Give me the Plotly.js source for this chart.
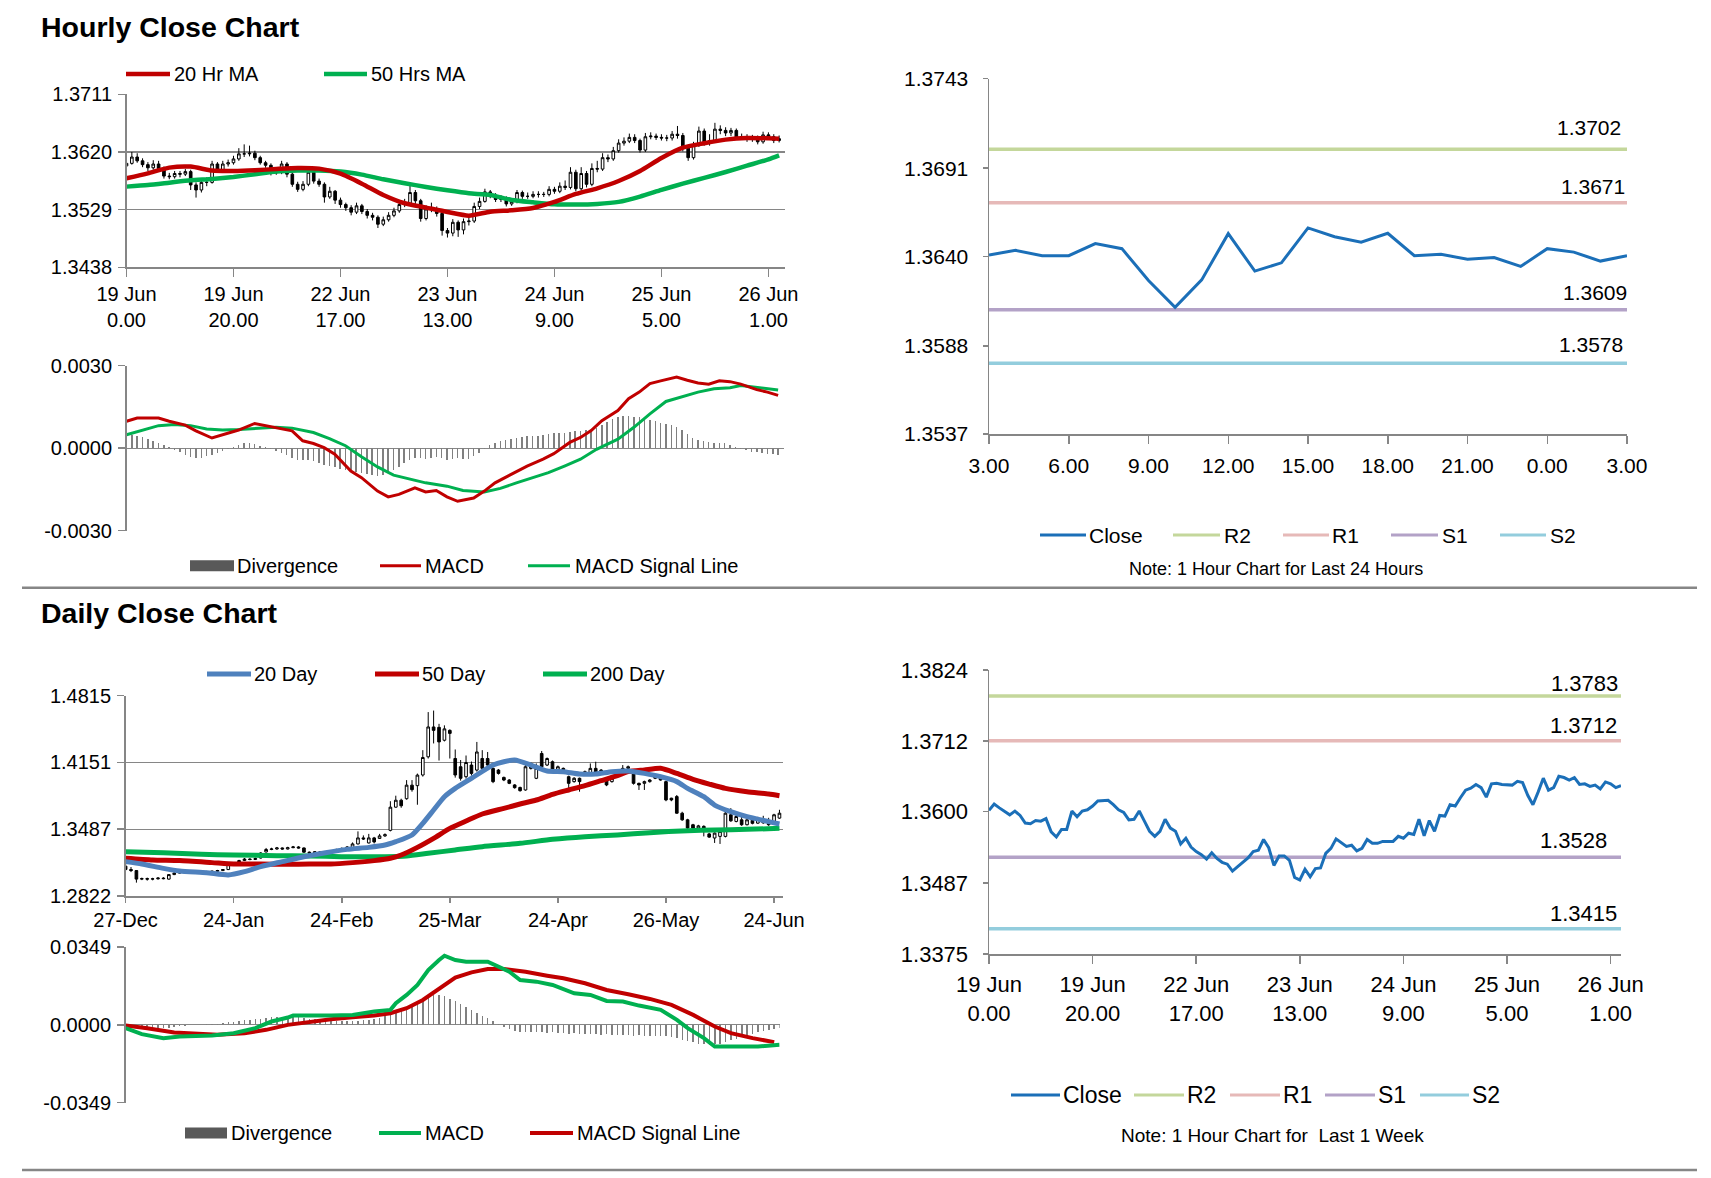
<!DOCTYPE html>
<html><head><meta charset="utf-8">
<script src="https://cdn.plot.ly/plotly-3.0.1.min.js"></script>
<style>html,body{margin:0;padding:0;background:#fff}#chart{width:1711px;height:1178px}</style>
</head><body><div id="chart"></div>
<script>
// ================= DATA =================
// Hourly (19 Jun 0.00 .. 26 Jun 2.00), one value per hour
const hourlyTickIdx = [0, 20, 40, 60, 80, 100, 120];
const hourlyTickLabels = ['19 Jun<br>0.00', '19 Jun<br>20.00', '22 Jun<br>17.00', '23 Jun<br>13.00', '24 Jun<br>9.00', '25 Jun<br>5.00', '26 Jun<br>1.00'];
const hourlyOpen = [1.3598,1.3602,1.3612,1.3606,1.3600,1.3595,1.3601,1.3594,1.3582,1.3581,
1.3586,1.3585,1.3589,1.3568,1.3560,1.3572,1.3572,1.3601,1.3592,1.3601,
1.3603,1.3609,1.3617,1.3617,1.3618,1.3611,1.3603,1.3599,1.3587,1.3588,
1.3601,1.3585,1.3569,1.3561,1.3569,1.3588,1.3574,1.3569,1.3549,1.3558,
1.3544,1.3537,1.3532,1.3525,1.3535,1.3526,1.3520,1.3517,1.3506,1.3513,
1.3520,1.3527,1.3537,1.3539,1.3556,1.3543,1.3515,1.3530,1.3530,1.3523,
1.3496,1.3492,1.3509,1.3497,1.3510,1.3511,1.3534,1.3542,1.3557,1.3551,
1.3545,1.3547,1.3538,1.3542,1.3556,1.3550,1.3550,1.3553,1.3553,1.3553,
1.3561,1.3558,1.3566,1.3564,1.3588,1.3562,1.3586,1.3569,1.3594,1.3593,
1.3611,1.3609,1.3622,1.3634,1.3637,1.3643,1.3638,1.3623,1.3644,1.3645,
1.3643,1.3642,1.3642,1.3648,1.3646,1.3626,1.3611,1.3631,1.3653,1.3634,
1.3638,1.3656,1.3654,1.3650,1.3654,1.3643,1.3644,1.3640,1.3642,1.3636,
1.3647,1.3644,1.3638];
const hourlyHigh = [1.3606,1.3620,1.3618,1.3610,1.3604,1.3607,1.3606,1.3597,1.3587,1.3590,
1.3590,1.3593,1.3592,1.3572,1.3576,1.3580,1.3606,1.3604,1.3606,1.3608,
1.3614,1.3626,1.3632,1.3630,1.3622,1.3614,1.3606,1.3602,1.3594,1.3606,
1.3604,1.3588,1.3573,1.3574,1.3592,1.3590,1.3578,1.3572,1.3565,1.3560,
1.3548,1.3540,1.3536,1.3540,1.3538,1.3530,1.3524,1.3520,1.3518,1.3525,
1.3532,1.3542,1.3546,1.3572,1.3560,1.3546,1.3536,1.3540,1.3534,1.3526,
1.3500,1.3514,1.3512,1.3515,1.3518,1.3540,1.3548,1.3562,1.3560,1.3555,
1.3552,1.3550,1.3547,1.3560,1.3559,1.3556,1.3558,1.3558,1.3557,1.3566,
1.3565,1.3572,1.3575,1.3596,1.3592,1.3596,1.3590,1.3602,1.3606,1.3618,
1.3616,1.3628,1.3640,1.3643,1.3649,1.3648,1.3641,1.3650,1.3651,1.3649,
1.3648,1.3647,1.3653,1.3661,1.3650,1.3629,1.3636,1.3660,1.3657,1.3648,
1.3666,1.3662,1.3659,1.3658,1.3657,1.3649,1.3648,1.3647,1.3646,1.3652,
1.3651,1.3648,1.3646];
const hourlyLow = [1.3594,1.3600,1.3603,1.3596,1.3590,1.3592,1.3590,1.3578,1.3577,1.3578,
1.3580,1.3582,1.3560,1.3548,1.3556,1.3566,1.3570,1.3588,1.3590,1.3597,
1.3600,1.3606,1.3612,1.3613,1.3607,1.3600,1.3595,1.3583,1.3584,1.3585,
1.3580,1.3565,1.3557,1.3558,1.3566,1.3570,1.3565,1.3540,1.3546,1.3538,
1.3532,1.3527,1.3520,1.3522,1.3522,1.3515,1.3512,1.3500,1.3503,1.3510,
1.3517,1.3524,1.3533,1.3536,1.3538,1.3510,1.3512,1.3525,1.3518,1.3488,
1.3485,1.3487,1.3486,1.3490,1.3504,1.3508,1.3530,1.3540,1.3547,1.3541,
1.3541,1.3534,1.3535,1.3539,1.3546,1.3546,1.3547,1.3548,1.3549,1.3550,
1.3554,1.3555,1.3560,1.3561,1.3558,1.3559,1.3564,1.3566,1.3588,1.3590,
1.3604,1.3606,1.3619,1.3630,1.3634,1.3634,1.3619,1.3620,1.3640,1.3639,
1.3638,1.3637,1.3638,1.3641,1.3621,1.3606,1.3608,1.3628,1.3630,1.3630,
1.3635,1.3648,1.3645,1.3645,1.3639,1.3639,1.3636,1.3636,1.3632,1.3633,
1.3640,1.3634,1.3635];
const hourlyClose = [1.3602,1.3612,1.3606,1.3600,1.3595,1.3601,1.3594,1.3582,1.3581,1.3586,
1.3585,1.3589,1.3568,1.3560,1.3572,1.3572,1.3601,1.3592,1.3601,1.3603,
1.3609,1.3617,1.3617,1.3618,1.3611,1.3603,1.3599,1.3587,1.3588,1.3601,
1.3585,1.3569,1.3561,1.3569,1.3588,1.3574,1.3569,1.3549,1.3558,1.3544,
1.3537,1.3532,1.3525,1.3535,1.3526,1.3520,1.3517,1.3506,1.3513,1.3520,
1.3527,1.3537,1.3539,1.3556,1.3543,1.3515,1.3530,1.3530,1.3523,1.3496,
1.3492,1.3509,1.3497,1.3510,1.3511,1.3534,1.3542,1.3557,1.3551,1.3545,
1.3547,1.3538,1.3542,1.3556,1.3550,1.3550,1.3553,1.3553,1.3553,1.3561,
1.3558,1.3566,1.3564,1.3588,1.3562,1.3586,1.3569,1.3594,1.3593,1.3611,
1.3609,1.3622,1.3634,1.3637,1.3643,1.3638,1.3623,1.3644,1.3645,1.3643,
1.3642,1.3642,1.3648,1.3646,1.3626,1.3611,1.3631,1.3653,1.3634,1.3638,
1.3656,1.3654,1.3650,1.3654,1.3643,1.3644,1.3640,1.3642,1.3636,1.3647,
1.3644,1.3638,1.3641];
const hourlyMAIdx = [0,4,8,12,16,20,24,28,32,36,40,44,48,52,56,60,64,68,72,76,80,84,88,92,96,100,104,108,112,116,120,122];
const hourlyMA20 = [1.35785,1.35863,1.35953,1.35969,1.35906,1.35900,1.35911,1.35932,1.35948,1.35937,1.35858,1.35700,1.35522,1.35391,1.35322,1.35253,1.35195,1.35258,1.35280,1.35316,1.35411,1.35537,1.35627,1.35742,1.35900,1.36105,1.36268,1.36337,1.36395,1.36421,1.36416,1.36410];
const hourlyMA50 = [1.35653,1.35679,1.35716,1.35753,1.35774,1.35806,1.35848,1.35890,1.35906,1.35906,1.35890,1.35842,1.35769,1.35706,1.35648,1.35595,1.35548,1.35522,1.35443,1.35406,1.35375,1.35370,1.35380,1.35412,1.35496,1.35601,1.35700,1.35790,1.35884,1.35984,1.36084,1.36147];
const hourlyMacdIdx = [0,2,6,8,11,13,16,18,21,24,27,29,31,33,35,37,39,42,44,47,49,51,54,56,58,60,62,65,67,69,72,75,78,80,83,85,87,89,92,94,96,98,100,103,105,107,109,111,113,115,118,120,122];
const hourlyMacd = [0.00098,0.00110,0.00110,0.00098,0.00084,0.00063,0.00037,0.00049,0.00066,0.00090,0.00079,0.00073,0.00063,0.00027,0.00017,0.00002,-0.00022,-0.00083,-0.00107,-0.00156,-0.00177,-0.00168,-0.00144,-0.00159,-0.00154,-0.00177,-0.00193,-0.00181,-0.00156,-0.00126,-0.00095,-0.00065,-0.00040,-0.00020,0.00021,0.00039,0.00064,0.00100,0.00137,0.00180,0.00204,0.00235,0.00245,0.00259,0.00247,0.00237,0.00233,0.00245,0.00242,0.00233,0.00213,0.00204,0.00192];
const hourlySignalIdx = [0,3,6,9,12,15,18,21,24,28,31,35,38,41,44,47,50,53,56,60,63,67,70,73,76,79,82,85,88,92,95,98,101,104,107,110,113,115,118,122];
const hourlySignal = [0.00049,0.00066,0.00082,0.00086,0.00082,0.00070,0.00066,0.00068,0.00072,0.00076,0.00073,0.00057,0.00035,0.00009,-0.00031,-0.00068,-0.00098,-0.00113,-0.00126,-0.00138,-0.00154,-0.00159,-0.00146,-0.00126,-0.00107,-0.00089,-0.00065,-0.00040,-0.00004,0.00033,0.00076,0.00125,0.00170,0.00188,0.00204,0.00216,0.00220,0.00228,0.00222,0.00212];
const hourlyDivergence = [0.00048,0.00049,0.00045,0.00040,0.00033,0.00026,0.00018,0.00010,0.00004,-0.00005,
-0.00015,-0.00025,-0.00032,-0.00034,-0.00034,-0.00030,-0.00024,-0.00018,-0.00010,-0.00004,
0.00006,0.00013,0.00018,0.00018,0.00014,0.00009,0.00003,-0.00004,-0.00010,-0.00016,
-0.00025,-0.00035,-0.00042,-0.00044,-0.00042,-0.00048,-0.00053,-0.00060,-0.00066,-0.00070,
-0.00075,-0.00080,-0.00083,-0.00087,-0.00090,-0.00095,-0.00098,-0.00100,-0.00098,-0.00090,
-0.00080,-0.00068,-0.00055,-0.00043,-0.00036,-0.00034,-0.00038,-0.00035,-0.00032,-0.00036,
-0.00042,-0.00040,-0.00036,-0.00040,-0.00038,-0.00030,-0.00018,-0.00003,0.00012,0.00020,
0.00026,0.00030,0.00033,0.00036,0.00040,0.00043,0.00045,0.00046,0.00048,0.00052,
0.00055,0.00056,0.00056,0.00060,0.00063,0.00062,0.00065,0.00068,0.00075,0.00085,
0.00095,0.00105,0.00112,0.00116,0.00118,0.00115,0.00112,0.00108,0.00102,0.00098,
0.00093,0.00088,0.00083,0.00076,0.00065,0.00050,0.00038,0.00030,0.00026,0.00022,
0.00020,0.00018,0.00018,0.00012,0.00003,-0.00004,-0.00008,-0.00012,-0.00015,-0.00017,
-0.00020,-0.00022,-0.00024];
const hourlyPriceTicks = [1.3438, 1.3529, 1.3620, 1.3711];
const hourlyMacdTicks = [-0.003, 0, 0.003];
const hourlyMacdTickText = ['-0.0030', '0.0000', '0.0030'];

// Last 24 hours (25 hourly closes, 25 Jun 3.00 .. 26 Jun 3.00)
const last24TickIdx = [0, 3, 6, 9, 12, 15, 18, 21, 24];
const last24TickLabels = ['3.00', '6.00', '9.00', '12.00', '15.00', '18.00', '21.00', '0.00', '3.00'];
const last24Close = [1.36407,1.36434,1.36403,1.36403,1.36473,1.36444,1.36259,1.36104,1.36263,1.36531,1.36314,1.36362,1.36564,1.36513,1.36482,1.36533,1.36403,1.36411,1.36383,1.36393,1.36341,1.36444,1.36424,1.36372,1.36403];
const last24Ticks = [1.3537, 1.3588, 1.3640, 1.3691, 1.3743];
const dayR2 = 1.3702, dayR1 = 1.3671, dayS1 = 1.3609, dayS2 = 1.3578;

// Last week pivots
const weekTicks = [1.3375, 1.3487, 1.3600, 1.3712, 1.3824];
const weekR2 = 1.3783, weekR1 = 1.3712, weekS1 = 1.3528, weekS2 = 1.3415;

// Daily (27-Dec .. 25-Jun)
const dailyTickIdx = [0, 20, 40, 60, 80, 100, 120];
const dailyTickLabels = ['27-Dec', '24-Jan', '24-Feb', '25-Mar', '24-Apr', '26-May', '24-Jun'];
const dailyOpen = [1.3119,1.3086,1.3075,1.2990,1.2995,1.2990,1.2993,1.3000,1.2990,1.3035,
1.3050,1.3058,1.3052,1.3062,1.3058,1.3065,1.3060,1.3068,1.3075,1.3085,
1.3135,1.3150,1.3175,1.3190,1.3185,1.3200,1.3260,1.3285,1.3290,1.3300,
1.3290,1.3303,1.3310,1.3300,1.3258,1.3250,1.3262,1.3245,1.3258,1.3270,
1.3285,1.3295,1.3300,1.3340,1.3400,1.3350,1.3400,1.3395,1.3420,1.3475,
1.3706,1.3775,1.3790,1.3925,1.3920,1.4026,1.4207,1.4504,1.4500,1.4372,
1.4470,1.4190,1.4108,1.4009,1.4125,1.4075,1.4190,1.4190,1.4092,1.4075,
1.4002,1.3976,1.3927,1.3902,1.3877,1.4141,1.3993,1.4240,1.4125,1.4158,
1.4075,1.4092,1.4009,1.3960,1.3993,1.4026,1.4042,1.4092,1.4075,1.3993,
1.3960,1.4009,1.4059,1.4092,1.4075,1.3943,1.3943,1.3960,1.3993,1.3993,
1.3960,1.3795,1.3811,1.3646,1.3580,1.3531,1.3498,1.3515,1.3440,1.3399,
1.3415,1.3415,1.3630,1.3564,1.3580,1.3531,1.3575,1.3547,1.3580,1.3547,
1.3564,1.3597];
const dailyHigh = [1.3140,1.3110,1.3080,1.3005,1.3005,1.3003,1.3010,1.3010,1.3040,1.3058,
1.3065,1.3065,1.3068,1.3070,1.3072,1.3072,1.3075,1.3082,1.3090,1.3145,
1.3160,1.3182,1.3200,1.3198,1.3205,1.3258,1.3300,1.3302,1.3310,1.3305,
1.3312,1.3320,1.3318,1.3305,1.3265,1.3268,1.3270,1.3265,1.3278,1.3292,
1.3305,1.3318,1.3355,1.3465,1.3425,1.3440,1.3410,1.3440,1.3445,1.3765,
1.3820,1.3790,1.3975,1.3975,1.4040,1.4273,1.4652,1.4667,1.4535,1.4520,
1.4480,1.4280,1.4175,1.4220,1.4160,1.4355,1.4273,1.4255,1.4100,1.4085,
1.4010,1.3985,1.3935,1.3910,1.4141,1.4150,1.4141,1.4265,1.4200,1.4170,
1.4120,1.4100,1.4020,1.4005,1.4000,1.4070,1.4141,1.4158,1.4085,1.4005,
1.4000,1.4050,1.4125,1.4120,1.4085,1.3950,1.3970,1.3985,1.4015,1.4000,
1.3970,1.3800,1.3827,1.3660,1.3590,1.3540,1.3530,1.3525,1.3450,1.3455,
1.3470,1.3660,1.3696,1.3640,1.3620,1.3600,1.3600,1.3610,1.3620,1.3600,
1.3640,1.3680];
const dailyLow = [1.3070,1.3060,1.2955,1.2980,1.2975,1.2978,1.2985,1.2988,1.2985,1.3030,
1.3045,1.3045,1.3048,1.3050,1.3052,1.3055,1.3055,1.3062,1.3070,1.3080,
1.3128,1.3145,1.3170,1.3178,1.3180,1.3195,1.3255,1.3278,1.3282,1.3283,
1.3285,1.3298,1.3295,1.3252,1.3245,1.3245,1.3240,1.3240,1.3252,1.3265,
1.3280,1.3290,1.3295,1.3335,1.3380,1.3345,1.3345,1.3390,1.3410,1.3465,
1.3700,1.3700,1.3780,1.3860,1.3730,1.4010,1.4190,1.4340,1.4170,1.4360,
1.4190,1.4000,1.3970,1.3990,1.4020,1.4060,1.4080,1.4110,1.3945,1.4030,
1.3965,1.3935,1.3890,1.3860,1.3870,1.4080,1.3985,1.4092,1.4115,1.4065,
1.4065,1.4050,1.3860,1.3950,1.3860,1.4020,1.4035,1.4030,1.4030,1.3915,
1.3950,1.4000,1.4050,1.4080,1.3930,1.3877,1.3877,1.3950,1.3985,1.3970,
1.3765,1.3765,1.3640,1.3570,1.3490,1.3485,1.3490,1.3415,1.3400,1.3350,
1.3340,1.3405,1.3560,1.3555,1.3520,1.3525,1.3535,1.3540,1.3540,1.3520,
1.3555,1.3590];
const dailyClose = [1.3086,1.3075,1.2990,1.2995,1.2990,1.2993,1.3000,1.2995,1.3035,1.3050,
1.3058,1.3052,1.3062,1.3058,1.3065,1.3060,1.3068,1.3075,1.3085,1.3135,
1.3150,1.3175,1.3190,1.3185,1.3195,1.3250,1.3285,1.3290,1.3300,1.3290,
1.3303,1.3310,1.3300,1.3258,1.3250,1.3262,1.3245,1.3258,1.3270,1.3285,
1.3295,1.3310,1.3340,1.3400,1.3390,1.3400,1.3360,1.3420,1.3432,1.3706,
1.3775,1.3720,1.3925,1.3880,1.4025,1.4200,1.4504,1.4470,1.4355,1.4485,
1.4440,1.4026,1.3993,1.4150,1.4042,1.4255,1.4092,1.4125,1.3960,1.4042,
1.3976,1.3943,1.3900,1.3870,1.4108,1.4092,1.4092,1.4108,1.4190,1.4075,
1.4108,1.4059,1.3943,1.3993,1.3960,1.4059,1.4092,1.4042,1.4042,1.3927,
1.3993,1.4042,1.4092,1.4108,1.3943,1.3927,1.3960,1.3976,1.4009,1.3976,
1.3778,1.3778,1.3646,1.3580,1.3498,1.3498,1.3520,1.3485,1.3408,1.3448,
1.3465,1.3646,1.3570,1.3613,1.3531,1.3580,1.3545,1.3597,1.3550,1.3531,
1.3630,1.3646];
const daily20Idx = [0,3,7,10,15,19,22,25,29,33,37,41,45,48,50,53,55,57,59,61,64,68,70,72,75,78,81,84,87,90,93,96,99,102,104,107,109,112,115,119,121];
const daily20 = [1.3164,1.3140,1.3097,1.3071,1.3054,1.3031,1.3064,1.3114,1.3164,1.3213,1.3253,1.3286,1.3306,1.3329,1.3363,1.3429,1.3545,1.3678,1.3810,1.3893,1.3993,1.4125,1.4158,1.4175,1.4125,1.4066,1.4059,1.4036,1.4036,1.4059,1.4066,1.4042,1.4009,1.3960,1.3893,1.3810,1.3727,1.3661,1.3611,1.3562,1.3538];
const daily50Idx = [0,5,10,16,20,25,30,34,38,42,46,49,51,54,57,60,63,66,70,73,76,79,82,85,88,91,93,96,99,102,105,108,111,115,119,121];
const daily50 = [1.3197,1.3180,1.3174,1.3154,1.3140,1.3140,1.3137,1.3140,1.3140,1.3154,1.3174,1.3197,1.3230,1.3306,1.3396,1.3495,1.3568,1.3638,1.3694,1.3737,1.3777,1.3833,1.3877,1.3920,1.3969,1.4019,1.4059,1.4076,1.4092,1.4042,1.3983,1.3936,1.3893,1.3860,1.3837,1.3820];
const daily200Idx = [0,7,14,20,28,34,40,48,52,56,61,66,73,79,85,91,97,104,109,115,121];
const daily200 = [1.3263,1.3253,1.3237,1.3230,1.3223,1.3220,1.3213,1.3213,1.3220,1.3247,1.3280,1.3313,1.3346,1.3386,1.3412,1.3429,1.3452,1.3472,1.3479,1.3485,1.3495];
const dailyMacdIdx = [0,3,7,10,16,20,24,27,30,31,38,42,46,49,50,52,54,56,58,59,61,63,67,69,71,73,76,79,83,86,89,92,95,99,102,104,107,109,113,117,121];
const dailyMacd = [-0.00149,-0.00417,-0.00596,-0.00522,-0.00477,-0.00373,-0.00149,0.00149,0.00328,0.00417,0.00417,0.00447,0.00596,0.00671,0.00969,0.01341,0.01788,0.02459,0.02906,0.03099,0.02906,0.02831,0.02831,0.02608,0.02384,0.02012,0.01937,0.01788,0.01416,0.01341,0.01073,0.01043,0.00864,0.00671,0.00224,-0.00149,-0.00596,-0.00969,-0.00969,-0.00969,-0.00894];
const dailySignalIdx = [0,4,9,13,17,22,26,30,34,38,42,46,49,52,55,58,61,64,67,70,74,78,81,85,89,93,97,101,105,109,112,116,120];
const dailySignal = [-0.00030,-0.00149,-0.00343,-0.00417,-0.00447,-0.00373,-0.00224,0.00000,0.00149,0.00253,0.00343,0.00417,0.00522,0.00745,0.01118,0.01639,0.02116,0.02354,0.02503,0.02503,0.02384,0.02205,0.02086,0.01863,0.01565,0.01371,0.01162,0.00894,0.00447,-0.00075,-0.00373,-0.00596,-0.00775];
const dailyDivergence = [-0.0005,-0.0010,-0.0015,-0.0020,-0.0022,-0.0020,-0.0018,-0.0015,-0.0012,-0.0010,
-0.0006,-0.0003,-0.0002,-0.0001,0.0000,0.0002,0.0004,0.0006,0.0009,0.0012,
0.0014,0.0017,0.0020,0.0023,0.0026,0.0028,0.0030,0.0033,0.0035,0.0036,
0.0036,0.0035,0.0033,0.0030,0.0027,0.0025,0.0023,0.0022,0.0020,0.0019,
0.0018,0.0017,0.0017,0.0018,0.0020,0.0022,0.0025,0.0030,0.0038,0.0048,
0.0058,0.0070,0.0080,0.0095,0.0105,0.0118,0.0126,0.0132,0.0134,0.0128,
0.0118,0.0105,0.0092,0.0078,0.0065,0.0052,0.0040,0.0030,0.0018,0.0005,
-0.0008,-0.0020,-0.0028,-0.0030,-0.0030,-0.0032,-0.0030,-0.0033,-0.0035,-0.0033,
-0.0035,-0.0037,-0.0040,-0.0038,-0.0040,-0.0042,-0.0040,-0.0042,-0.0045,-0.0042,
-0.0044,-0.0046,-0.0044,-0.0046,-0.0048,-0.0045,-0.0048,-0.0050,-0.0048,-0.0050,
-0.0052,-0.0055,-0.0060,-0.0066,-0.0072,-0.0078,-0.0084,-0.0088,-0.0090,-0.0088,
-0.0084,-0.0075,-0.0068,-0.0062,-0.0055,-0.0048,-0.0040,-0.0034,-0.0028,-0.0024,
-0.0020,-0.0016];
const dailyPriceTicks = [1.2822, 1.3487, 1.4151, 1.4815];
const dailyMacdTicks = [-0.0349, 0, 0.0349];
const dailyMacdTickText = ['-0.0349', '0.0000', '0.0349'];

// ================= STYLE / LAYOUT =================
const W = 1711, H = 1178;
const FONT = 'Liberation Sans, Arial, sans-serif';
const AX = '#868686';
const RED = '#c00000', GREEN = '#00b050', BLUE_MA = '#4f81bd', CLOSE = '#1b6fb8';
const C_R2 = '#c4d79b', C_R1 = '#e6b9b8', C_S1 = '#b3a2c7', C_S2 = '#93cddd';
const DIV = '#808080', DIV_LEG = '#595959';
const px = v => v / W;
const py = v => 1 - v / H;
const idx = n => Array.from({length: n}, (_, i) => i);

const hIdx = idx(hourlyClose.length);
const dIdx = idx(dailyClose.length);
const l24Idx = idx(last24Close.length);

const traces = [];
// P1 hourly candles + MAs
traces.push({type: 'candlestick', x: hIdx, open: hourlyOpen, high: hourlyHigh, low: hourlyLow, close: hourlyClose,
  xaxis: 'x', yaxis: 'y', whiskerwidth: 0,
  increasing: {line: {color: '#000', width: 1}, fillcolor: '#fff'},
  decreasing: {line: {color: '#000', width: 1}, fillcolor: '#000'}, name: 'Hourly'});
traces.push({type: 'scatter', mode: 'lines', x: hourlyMAIdx, y: hourlyMA50, xaxis: 'x', yaxis: 'y', line: {color: GREEN, width: 4.5, shape: 'spline', smoothing: 0.6}, name: '50 Hrs MA'});
traces.push({type: 'scatter', mode: 'lines', x: hourlyMAIdx, y: hourlyMA20, xaxis: 'x', yaxis: 'y', line: {color: RED, width: 4.5, shape: 'spline', smoothing: 0.6}, name: '20 Hr MA'});
// P2 hourly MACD
traces.push({type: 'bar', x: hIdx, y: hourlyDivergence, xaxis: 'x2', yaxis: 'y2', marker: {color: DIV}, width: 0.28, name: 'Divergence'});
traces.push({type: 'scatter', mode: 'lines', x: hourlySignalIdx, y: hourlySignal, xaxis: 'x2', yaxis: 'y2', line: {color: GREEN, width: 3}, name: 'MACD Signal Line'});
traces.push({type: 'scatter', mode: 'lines', x: hourlyMacdIdx, y: hourlyMacd, xaxis: 'x2', yaxis: 'y2', line: {color: RED, width: 3}, name: 'MACD'});
// P3 last 24 hours
[[dayR2, C_R2, 'R2'], [dayR1, C_R1, 'R1'], [dayS1, C_S1, 'S1'], [dayS2, C_S2, 'S2']].forEach(([v, c, n]) => {
  traces.push({type: 'scatter', mode: 'lines', x: [l24Idx[0], l24Idx[l24Idx.length - 1]], y: [v, v], xaxis: 'x3', yaxis: 'y3', line: {color: c, width: 3.5}, name: n});
});
traces.push({type: 'scatter', mode: 'lines', x: l24Idx, y: last24Close, xaxis: 'x3', yaxis: 'y3', line: {color: CLOSE, width: 3}, name: 'Close'});
// P4 daily candles + MAs
traces.push({type: 'candlestick', x: dIdx, open: dailyOpen, high: dailyHigh, low: dailyLow, close: dailyClose,
  xaxis: 'x4', yaxis: 'y4', whiskerwidth: 0,
  increasing: {line: {color: '#000', width: 1}, fillcolor: '#fff'},
  decreasing: {line: {color: '#000', width: 1}, fillcolor: '#000'}, name: 'Daily'});
traces.push({type: 'scatter', mode: 'lines', x: daily200Idx, y: daily200, xaxis: 'x4', yaxis: 'y4', line: {color: GREEN, width: 5, shape: 'spline', smoothing: 0.6}, name: '200 Day'});
traces.push({type: 'scatter', mode: 'lines', x: daily50Idx, y: daily50, xaxis: 'x4', yaxis: 'y4', line: {color: RED, width: 5, shape: 'spline', smoothing: 0.6}, name: '50 Day'});
traces.push({type: 'scatter', mode: 'lines', x: daily20Idx, y: daily20, xaxis: 'x4', yaxis: 'y4', line: {color: BLUE_MA, width: 5, shape: 'spline', smoothing: 0.6}, name: '20 Day'});
// P5 daily MACD
traces.push({type: 'bar', x: dIdx, y: dailyDivergence, xaxis: 'x5', yaxis: 'y5', marker: {color: DIV}, width: 0.28, name: 'Divergence'});
traces.push({type: 'scatter', mode: 'lines', x: dailySignalIdx, y: dailySignal, xaxis: 'x5', yaxis: 'y5', line: {color: RED, width: 4}, name: 'MACD Signal Line'});
traces.push({type: 'scatter', mode: 'lines', x: dailyMacdIdx, y: dailyMacd, xaxis: 'x5', yaxis: 'y5', line: {color: GREEN, width: 4}, name: 'MACD'});
// P6 last week
[[weekR2, C_R2, 'R2'], [weekR1, C_R1, 'R1'], [weekS1, C_S1, 'S1'], [weekS2, C_S2, 'S2']].forEach(([v, c, n]) => {
  traces.push({type: 'scatter', mode: 'lines', x: [hIdx[0], hIdx[hIdx.length - 1]], y: [v, v], xaxis: 'x6', yaxis: 'y6', line: {color: c, width: 3.5}, name: n});
});
traces.push({type: 'scatter', mode: 'lines', x: hIdx, y: hourlyClose, xaxis: 'x6', yaxis: 'y6', line: {color: CLOSE, width: 3}, name: 'Close'});

traces.forEach(t => { t.showlegend = false; t.hoverinfo = 'skip'; });

const baseAxis = {showline: true, linecolor: AX, linewidth: 1.5, ticks: 'outside', tickcolor: AX, tickwidth: 1.5,
  zeroline: false, fixedrange: true, tickfont: {family: FONT, size: 20, color: '#000'}};

function xAxis(l, r, range, anchor, o) {
  return Object.assign({}, baseAxis, {domain: [px(l), px(r)], range: range, anchor: anchor, showgrid: false, ticklen: 8}, o || {});
}
function yAxis(t, b, range, anchor, o) {
  return Object.assign({}, baseAxis, {domain: [py(b), py(t)], range: range, anchor: anchor, ticklen: 7, ticklabelstandoff: 2, showgrid: true, gridcolor: AX, gridwidth: 1.3}, o || {});
}

const layout = {
  width: W, height: H, margin: {l: 0, r: 0, t: 0, b: 0}, paper_bgcolor: '#fff', plot_bgcolor: 'rgba(0,0,0,0)',
  showlegend: false, hovermode: false, bargap: 0,
  font: {family: FONT, color: '#000'},
  // P1
  xaxis: xAxis(126.5, 785, [0, 123.1], 'y', {tickvals: hourlyTickIdx, ticktext: hourlyTickLabels, rangeslider: {visible: false}}),
  yaxis: yAxis(94.3, 267.3, [1.3438, 1.3711], 'x', {tickvals: hourlyPriceTicks, tickformat: '.4f'}),
  // P2
  xaxis2: xAxis(126.5, 784, [0, 123.1], 'y2', {showline: false, ticks: '', showticklabels: false}),
  yaxis2: yAxis(365.7, 530.7, [-0.003, 0.003], 'x2', {tickvals: hourlyMacdTicks, ticktext: hourlyMacdTickText}),
  // P3
  xaxis3: xAxis(989, 1627, [0, 24], 'y3', {tickvals: last24TickIdx, ticktext: last24TickLabels, ticklabelstandoff: 4, tickfont: {family: FONT, size: 21, color: '#000'}}),
  yaxis3: yAxis(78.5, 434, [1.3537, 1.3743], 'x3', {tickvals: last24Ticks, tickformat: '.4f', showgrid: false, ticklen: 5, ticklabelstandoff: 10, tickfont: {family: FONT, size: 21, color: '#000'}}),
  // P4
  xaxis4: xAxis(125.6, 782.7, [0, 121.6], 'y4', {tickvals: dailyTickIdx, ticktext: dailyTickLabels, ticklen: 5, rangeslider: {visible: false}}),
  yaxis4: yAxis(695.7, 896, [1.2822, 1.4815], 'x4', {tickvals: dailyPriceTicks, tickformat: '.4f'}),
  // P5
  xaxis5: xAxis(125.6, 779.6, [0, 121], 'y5', {showline: false, ticks: '', showticklabels: false}),
  yaxis5: yAxis(947, 1102.7, [-0.0349, 0.0349], 'x5', {tickvals: dailyMacdTicks, ticktext: dailyMacdTickText}),
  // P6
  xaxis6: xAxis(989, 1621, [0, 122], 'y6', {tickvals: hourlyTickIdx, ticktext: hourlyTickLabels, ticklabelstandoff: 2, tickfont: {family: FONT, size: 22, color: '#000'}}),
  yaxis6: yAxis(670, 954, [1.3375, 1.3824], 'x6', {tickvals: weekTicks, tickformat: '.4f', showgrid: false, ticklen: 5, ticklabelstandoff: 10, tickfont: {family: FONT, size: 22, color: '#000'}}),
  shapes: [], annotations: []
};

// separators
[587.7, 1170].forEach(y => layout.shapes.push({type: 'line', xref: 'paper', yref: 'paper', x0: px(22), x1: px(1697), y0: py(y), y1: py(y), line: {color: AX, width: 2.5}}));

// titles
layout.annotations.push({xref: 'paper', yref: 'paper', x: px(39), y: py(26.7), xanchor: 'left', yanchor: 'middle', showarrow: false, text: '<b>Hourly Close Chart</b>', font: {family: FONT, size: 28.5, color: '#000'}});
layout.annotations.push({xref: 'paper', yref: 'paper', x: px(39), y: py(613), xanchor: 'left', yanchor: 'middle', showarrow: false, text: '<b>Daily Close Chart</b>', font: {family: FONT, size: 28.5, color: '#000'}});

// manual legends
function legLine(x0, x1, y, color, width, label, tx, size) {
  layout.shapes.push({type: 'line', xref: 'paper', yref: 'paper', x0: px(x0), x1: px(x1), y0: py(y), y1: py(y), line: {color: color, width: width}});
  layout.annotations.push({xref: 'paper', yref: 'paper', x: px(tx), y: py(y), xanchor: 'left', yanchor: 'middle', showarrow: false, text: label, font: {family: FONT, size: size, color: '#000'}, borderpad: 0});
}
function legBox(x0, x1, y, h, color, label, tx, size) {
  layout.shapes.push({type: 'rect', xref: 'paper', yref: 'paper', x0: px(x0), x1: px(x1), y0: py(y + h / 2), y1: py(y - h / 2), fillcolor: color, line: {width: 0}});
  layout.annotations.push({xref: 'paper', yref: 'paper', x: px(tx), y: py(y), xanchor: 'left', yanchor: 'middle', showarrow: false, text: label, font: {family: FONT, size: size, color: '#000'}, borderpad: 0});
}
legLine(126, 170, 74, RED, 4.5, '20 Hr MA', 173, 20);
legLine(324, 367, 74, GREEN, 4.5, '50 Hrs MA', 370, 20);
legBox(190, 234, 565.7, 11, DIV_LEG, 'Divergence', 236, 20);
legLine(380, 421, 565.7, RED, 3, 'MACD', 424, 20);
legLine(528, 570, 565.7, GREEN, 3, 'MACD Signal Line', 574, 20);

legLine(1040, 1086, 535, CLOSE, 3, 'Close', 1088, 21);
legLine(1173, 1220, 535, C_R2, 3, 'R2', 1223, 21);
legLine(1283, 1329, 535, C_R1, 3, 'R1', 1331, 21);
legLine(1391, 1438, 535, C_S1, 3, 'S1', 1441, 21);
legLine(1500, 1546, 535, C_S2, 3, 'S2', 1549, 21);
layout.annotations.push({xref: 'paper', yref: 'paper', x: px(1276), y: py(569), xanchor: 'center', yanchor: 'middle', showarrow: false, text: 'Note: 1 Hour Chart for Last 24 Hours', font: {family: FONT, size: 18, color: '#000'}});

legLine(207, 251, 674, BLUE_MA, 5, '20 Day', 253, 20);
legLine(375, 419, 674, RED, 5, '50 Day', 421, 20);
legLine(543, 587, 674, GREEN, 5, '200 Day', 589, 20);
legBox(185, 227, 1133, 11, DIV_LEG, 'Divergence', 230, 20);
legLine(379, 421, 1133, GREEN, 4, 'MACD', 424, 20);
legLine(530, 573, 1133, RED, 4, 'MACD Signal Line', 576, 20);

legLine(1011, 1060, 1095, CLOSE, 3, 'Close', 1062, 23);
legLine(1134, 1184, 1095, C_R2, 3, 'R2', 1186, 23);
legLine(1230, 1280, 1095, C_R1, 3, 'R1', 1282, 23);
legLine(1325, 1375, 1095, C_S1, 3, 'S1', 1377, 23);
legLine(1420, 1469, 1095, C_S2, 3, 'S2', 1471, 23);
layout.annotations.push({xref: 'paper', yref: 'paper', x: px(1272), y: py(1135), xanchor: 'center', yanchor: 'middle', showarrow: false, text: 'Note: 1 Hour Chart for&nbsp; Last 1 Week', font: {family: FONT, size: 19, color: '#000'}});

// level labels
function levelLabel(xr, yr, xv, v, dy, dx, size) {
  layout.annotations.push({xref: xr, yref: yr, x: xv, y: v, xanchor: 'right', yanchor: 'middle', yshift: dy, xshift: dx, showarrow: false, text: v.toFixed(4), font: {family: FONT, size: size, color: '#000'}});
}
levelLabel('x3', 'y3', 24, dayR2, 22, -4, 21);
levelLabel('x3', 'y3', 24, dayR1, 16, 0, 21);
levelLabel('x3', 'y3', 24, dayS1, 17, 2, 21);
levelLabel('x3', 'y3', 24, dayS2, 19, -2, 21);
levelLabel('x6', 'y6', 122, weekR2, 12, -1, 22);
levelLabel('x6', 'y6', 122, weekR1, 15, -2, 22);
levelLabel('x6', 'y6', 122, weekS1, 17, -12, 22);
levelLabel('x6', 'y6', 122, weekS2, 15, -2, 22);

Plotly.newPlot('chart', traces, layout, {displayModeBar: false, staticPlot: true});
</script>
</body></html>
